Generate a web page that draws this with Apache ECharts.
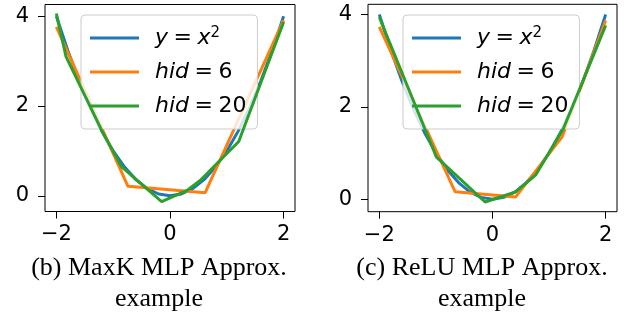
<!DOCTYPE html>
<html><head><meta charset="utf-8">
<script src="https://cdn.jsdelivr.net/npm/echarts@6/dist/echarts.min.js"></script>
<style>html,body{margin:0;padding:0;background:#fff}#c{width:630px;height:320px}</style>
</head><body><div id="c"></div>
<script>
const xTicks = [-2, 0, 2];
const yTicks = [0, 2, 4];
const seriesNames = ['y=x^2', 'hid=6', 'hid=20'];
const captions = ['(b) MaxK MLP Approx.\nexample', '(c) ReLU MLP Approx.\nexample'];

// target curve y = x^2 (read values)
const curveX = [-2, -1.8, -1.6, -1.4, -1.2, -1, -0.8, -0.6, -0.4, -0.2, 0, 0.2, 0.4, 0.6, 0.8, 1, 1.2, 1.4, 1.6, 1.8, 2];
const curveY = [4, 3.24, 2.56, 1.96, 1.44, 1, 0.64, 0.36, 0.16, 0.04, 0, 0.04, 0.16, 0.36, 0.64, 1, 1.44, 1.96, 2.56, 3.24, 4];

// (b) MaxK
const maxkHid6X = [-2, -0.74, 0.62, 2];
const maxkHid6Y = [3.76, 0.21, 0.07, 3.91];
const maxkHid20X = [-2, -1.83, -1.2, -0.855, -0.147, 0.3, 0.53, 1.21, 2];
const maxkHid20Y = [4.06, 3.10, 1.45, 0.65, -0.13, 0.12, 0.34, 1.21, 3.87];

// (c) ReLU
const reluHid6X = [-2, -0.66, 0.41, 1.23, 2];
const reluHid6Y = [3.73, 0.16, 0.05, 1.35, 3.87];
const reluHid20X = [-2, -0.99, -0.13, 0.41, 0.76, 1.25, 2];
const reluHid20Y = [3.94, 0.91, -0.06, 0.16, 0.52, 1.52, 3.76];

const colors = ['#1f77b4', '#ff7f0e', '#2ca02c'];
const zip = (xs, ys) => xs.map((x, i) => [x, ys[i]]);
const fmt = v => v < 0 ? '\u2212' + Math.abs(v) : String(v);

const grids = [
  {left: 45, top: 4.5, width: 250, height: 207},
  {left: 368, top: 4.3, width: 249, height: 207.4}
];
const yRanges = [[-0.35, 4.26], [-0.27, 4.22]];
const panelData = [
  [zip(curveX, curveY), zip(maxkHid6X, maxkHid6Y), zip(maxkHid20X, maxkHid20Y)],
  [zip(curveX, curveY), zip(reluHid6X, reluHid6Y), zip(reluHid20X, reluHid20Y)]
];
const legendLeft = [81, 403];
const captionX = [159, 482];

const tickFont = {fontFamily: 'DejaVu Sans', fontSize: 21, color: '#000'};

const option = {
  animation: false,
  grid: grids.map(g => Object.assign({show: true, borderColor: '#000', borderWidth: 1, backgroundColor: 'transparent'}, g)),
  xAxis: grids.map((g, i) => ({
    type: 'value', gridIndex: i, min: -2.2, max: 2.2,
    axisLine: {show: false, onZero: false},
    splitLine: {show: false},
    axisTick: {show: true, customValues: xTicks, length: 7, lineStyle: {color: '#000', width: 1}},
    axisLabel: Object.assign({customValues: xTicks, formatter: fmt, margin: 13}, tickFont)
  })),
  yAxis: grids.map((g, i) => ({
    type: 'value', gridIndex: i, min: yRanges[i][0], max: yRanges[i][1],
    axisLine: {show: false, onZero: false},
    splitLine: {show: false},
    axisTick: {show: true, customValues: yTicks, length: 7, lineStyle: {color: '#000', width: 1}},
    axisLabel: Object.assign({customValues: yTicks, formatter: fmt, margin: 16}, tickFont)
  })),
  legend: legendLeft.map(l => ({
    data: seriesNames,
    orient: 'vertical',
    left: l, top: 15,
    icon: 'rect', itemWidth: 49, itemHeight: 3, itemGap: 10,
    padding: [11, 11, 11, 9],
    backgroundColor: 'rgba(255,255,255,0.8)',
    borderColor: '#cccccc', borderWidth: 1, borderRadius: 4,
    selectedMode: false,
    formatter: name => {
      if (name === 'y=x^2') return '{i|y}{e|=}{i|x}{s|2}';
      if (name === 'hid=6') return '{i|hid}{e|=}6';
      return '{i|hid}{e|=}20';
    },
    textStyle: {
      fontFamily: 'DejaVu Sans', fontSize: 22, color: '#000', lineHeight: 24,
      padding: [0, 0, 0, 11],
      rich: {
        i: {fontFamily: 'DejaVu Sans', fontStyle: 'italic', fontSize: 22, color: '#000', lineHeight: 24},
        e: {fontFamily: 'DejaVu Sans', fontSize: 22, color: '#000', lineHeight: 24, padding: [0, 5.5, 0, 5.5]},
        s: {fontFamily: 'DejaVu Sans', fontSize: 15, color: '#000', lineHeight: 12, verticalAlign: 'top'}
      }
    }
  })),
  series: [].concat(...panelData.map((sets, p) => sets.map((d, k) => ({
    type: 'line', name: seriesNames[k], xAxisIndex: p, yAxisIndex: p,
    data: d, showSymbol: false, symbol: 'none', clip: true,
    color: colors[k],
    lineStyle: {color: colors[k], width: 3},
    itemStyle: {color: colors[k]},
    z: 2 + k
  })))),
  graphic: [].concat(...captions.map((c, i) => c.split('\n').map((line, j) => ({
    type: 'text', x: captionX[i], y: j === 0 ? 268 : 299.2,
    style: {text: line, fontFamily: 'Liberation Serif', fontSize: 26, fill: '#000', align: 'center', verticalAlign: 'middle'}
  }))))
};
const chart = echarts.init(document.getElementById('c'));
chart.setOption(option);
</script></body></html>
